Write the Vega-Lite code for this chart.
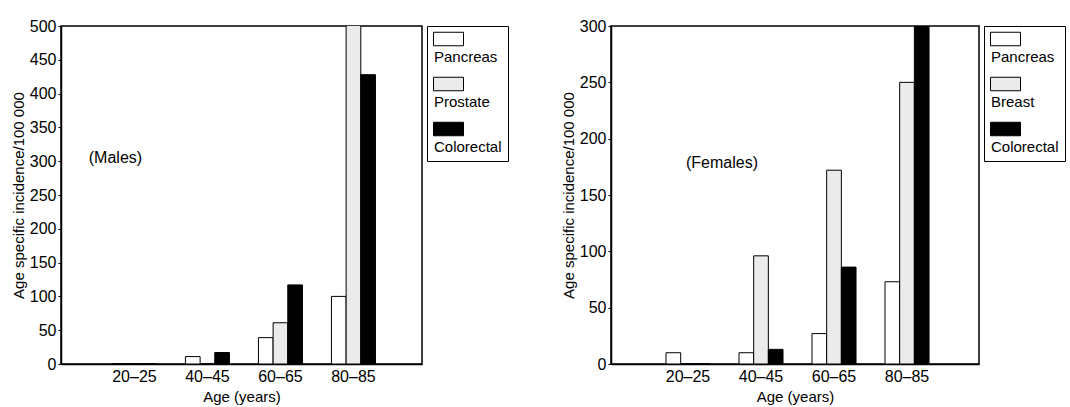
{
  "$schema": "https://vega.github.io/schema/vega-lite/v6.json",
  "background": "white",
  "padding": {"left": 10, "top": 17, "right": 0, "bottom": 0},
  "spacing": 50,
  "config": {
    "font": "Liberation Sans",
    "view": {"stroke": "black", "strokeWidth": 1.5},
    "axis": {
      "labelFontSize": 16, "titleFontSize": 15, "titleFontWeight": "normal",
      "labelColor": "black", "titleColor": "black", "domainColor": "black",
      "tickColor": "black", "tickSize": 3, "domainWidth": 1.5, "grid": false,
      "labelPadding": 2, "titlePadding": 3, "labelOverlap": false
    },
    "legend": {
      "labelFontSize": 15, "labelColor": "black", "strokeColor": "black",
      "padding": 6, "offset": 5
    }
  },
  "resolve": {"scale": {"x": "independent", "xOffset": "independent", "y": "independent", "fill": "independent"}, "legend": {"fill": "independent"}},
  "hconcat": [
    {
      "width": 361, "height": 338,
      "data": {"values": [
        {"age": "20–25", "cancer": "Pancreas", "incidence": 0},
        {"age": "20–25", "cancer": "Prostate", "incidence": 0},
        {"age": "20–25", "cancer": "Colorectal", "incidence": 0},
        {"age": "40–45", "cancer": "Pancreas", "incidence": 11},
        {"age": "40–45", "cancer": "Prostate", "incidence": 0},
        {"age": "40–45", "cancer": "Colorectal", "incidence": 17},
        {"age": "60–65", "cancer": "Pancreas", "incidence": 39},
        {"age": "60–65", "cancer": "Prostate", "incidence": 61},
        {"age": "60–65", "cancer": "Colorectal", "incidence": 117},
        {"age": "80–85", "cancer": "Pancreas", "incidence": 100},
        {"age": "80–85", "cancer": "Prostate", "incidence": 520},
        {"age": "80–85", "cancer": "Colorectal", "incidence": 428}
      ]},
      "encoding": {
        "x": {"field": "age", "type": "nominal",
          "scale": {"domain": ["20–25", "40–45", "60–65", "80–85"], "paddingInner": 0.397, "paddingOuter": 0.671, "align": 0.525},
          "axis": {"title": "Age (years)", "labelAngle": 0, "ticks": false, "labelPadding": 4, "titlePadding": 5}},
        "y": {"field": "incidence", "type": "quantitative",
          "scale": {"domain": [0, 500], "nice": false},
          "axis": {"title": "Age specific incidence/100 000", "values": [0, 50, 100, 150, 200, 250, 300, 350, 400, 450, 500]}}
      },
      "layer": [
        {
          "mark": {"type": "bar", "stroke": "black", "strokeWidth": 1, "clip": true},
          "encoding": {
            "xOffset": {"field": "cancer", "type": "nominal",
              "scale": {"domain": ["Pancreas", "Prostate", "Colorectal"], "paddingInner": 0, "paddingOuter": 0}},
            "fill": {"field": "cancer", "type": "nominal",
              "scale": {"domain": ["Pancreas", "Prostate", "Colorectal"], "range": ["white", "#ebebeb", "black"]},
              "legend": {"title": null, "orient": "right",
                "symbolType": "M-1,-0.45H1V0.45H-1Z", "symbolSize": 900,
                "symbolStrokeColor": "black", "symbolStrokeWidth": 1,
                "labelOffset": 4, "rowPadding": 10,
                "encode": {
                  "symbols": {"update": {"y": {"value": 7}}},
                  "labels": {"update": {"y": {"value": 25}, "baseline": {"value": "middle"}, "dx": {"value": -34}}}
                }}}
          }
        },
        {
          "data": {"values": [{"age": "20–25", "incidence": 305, "label": "(Males)"}]},
          "mark": {"type": "text", "dx": -19, "fontSize": 16, "color": "black"},
          "encoding": {
            "text": {"field": "label"}
          }
        }
      ]
    },
    {
      "width": 368, "height": 338,
      "data": {"values": [
        {"age": "20–25", "cancer": "Pancreas", "incidence": 10},
        {"age": "20–25", "cancer": "Breast", "incidence": 0},
        {"age": "20–25", "cancer": "Colorectal", "incidence": 0},
        {"age": "40–45", "cancer": "Pancreas", "incidence": 10},
        {"age": "40–45", "cancer": "Breast", "incidence": 96},
        {"age": "40–45", "cancer": "Colorectal", "incidence": 13},
        {"age": "60–65", "cancer": "Pancreas", "incidence": 27},
        {"age": "60–65", "cancer": "Breast", "incidence": 172},
        {"age": "60–65", "cancer": "Colorectal", "incidence": 86},
        {"age": "80–85", "cancer": "Pancreas", "incidence": 73},
        {"age": "80–85", "cancer": "Breast", "incidence": 250},
        {"age": "80–85", "cancer": "Colorectal", "incidence": 320}
      ]},
      "encoding": {
        "x": {"field": "age", "type": "nominal",
          "scale": {"domain": ["20–25", "40–45", "60–65", "80–85"], "paddingInner": 0.397, "paddingOuter": 0.719, "align": 0.524},
          "axis": {"title": "Age (years)", "labelAngle": 0, "ticks": false, "labelPadding": 4, "titlePadding": 5}},
        "y": {"field": "incidence", "type": "quantitative",
          "scale": {"domain": [0, 300], "nice": false},
          "axis": {"title": "Age specific incidence/100 000", "values": [0, 50, 100, 150, 200, 250, 300]}}
      },
      "layer": [
        {
          "mark": {"type": "bar", "stroke": "black", "strokeWidth": 1, "clip": true},
          "encoding": {
            "xOffset": {"field": "cancer", "type": "nominal",
              "scale": {"domain": ["Pancreas", "Breast", "Colorectal"], "paddingInner": 0, "paddingOuter": 0}},
            "fill": {"field": "cancer", "type": "nominal",
              "scale": {"domain": ["Pancreas", "Breast", "Colorectal"], "range": ["white", "#ebebeb", "black"]},
              "legend": {"title": null, "orient": "right",
                "symbolType": "M-1,-0.45H1V0.45H-1Z", "symbolSize": 900,
                "symbolStrokeColor": "black", "symbolStrokeWidth": 1,
                "labelOffset": 4, "rowPadding": 10,
                "encode": {
                  "symbols": {"update": {"y": {"value": 7}}},
                  "labels": {"update": {"y": {"value": 25}, "baseline": {"value": "middle"}, "dx": {"value": -34}}}
                }}}
          }
        },
        {
          "data": {"values": [{"age": "20–25", "incidence": 178, "label": "(Females)"}]},
          "mark": {"type": "text", "dx": 34, "fontSize": 16, "color": "black"},
          "encoding": {
            "text": {"field": "label"}
          }
        }
      ]
    }
  ]
}
